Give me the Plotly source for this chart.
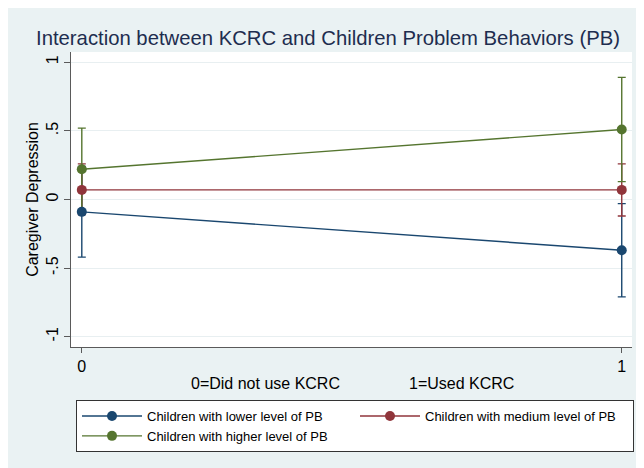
import plotly.graph_objects as go

# ---- data ----
x_vals = [0, 1]
x_ticklabels = ["0", "1"]
series_names = [
    "Children with lower level of PB",
    "Children with medium level of PB",
    "Children with higher level of PB",
]
low_mean = [-0.09, -0.37]
low_upper = [0.24, -0.03]
low_lower = [-0.42, -0.71]
med_mean = [0.07, 0.07]
med_upper = [0.26, 0.26]
med_lower = [-0.11, -0.12]
high_mean = [0.22, 0.51]
high_upper = [0.52, 0.89]
high_lower = [-0.08, 0.13]
y_tickvals = [-1, -0.5, 0, 0.5, 1]
y_ticklabels = ["-1", "-.5", "0", ".5", "1"]

colors = ["#1a476f", "#90353b", "#55752f"]
means = [low_mean, med_mean, high_mean]
uppers = [low_upper, med_upper, high_upper]
lowers = [low_lower, med_lower, high_lower]

FONT = "Liberation Sans, Arial, Helvetica, sans-serif"

fig = go.Figure()

# error bars first (drawn beneath lines/markers)
for m, u, l, c in zip(means, uppers, lowers, colors):
    fig.add_trace(go.Scatter(
        x=x_vals, y=m, mode="markers",
        marker=dict(size=1, color="rgba(0,0,0,0)"),
        error_y=dict(type="data", symmetric=False,
                     array=[ui - mi for ui, mi in zip(u, m)],
                     arrayminus=[mi - li for li, mi in zip(l, m)],
                     color=c, thickness=1.4, width=4),
        showlegend=False, hoverinfo="skip",
    ))

for name, m, c in zip(series_names, means, colors):
    fig.add_trace(go.Scatter(
        x=x_vals, y=m, mode="lines+markers", name=name,
        line=dict(color=c, width=1.4),
        marker=dict(color=c, size=10),
    ))

# page is offset by the 8px body margin
OFF = 8
W, H = 644, 468
L, T = 71 - OFF, 52 - OFF
PR, PB = 632 - OFF, 347 - OFF
R, B = W - PR, H - PB
pw = PR - L
ph = PB - T

def px_x(p):
    return (p - OFF - L) / pw

def px_y(p):
    return (PB - (p - OFF)) / ph

fig.update_layout(
    width=W, height=H,
    margin=dict(l=L, r=R, t=T, b=B, autoexpand=False),
    paper_bgcolor="#eaf2f3",
    plot_bgcolor="white",
    font=dict(family=FONT, color="#000000", size=16),
    title=dict(text="Interaction between KCRC and Children Problem Behaviors (PB)",
               x=(328 - OFF) / W, xanchor="center", y=1 - (38 - OFF) / H, yanchor="middle",
               xref="container", yref="container",
               font=dict(size=20.3, color="#1e2d4f", family=FONT)),
    xaxis=dict(range=[-0.02, 1.019], tickvals=x_vals, ticktext=x_ticklabels,
               showgrid=False, zeroline=False, showline=True,
               linecolor="#5a5a5a", linewidth=1.2, ticks="outside",
               ticklen=5, tickcolor="#5a5a5a", tickfont=dict(size=16),
               title=None),
    yaxis=dict(range=[-1.075, 1.075], tickvals=y_tickvals, ticktext=y_ticklabels,
               tickangle=-90, showgrid=True, gridcolor="#e8eff1", gridwidth=1,
               zeroline=False, showline=True, linecolor="#5a5a5a", linewidth=1.2,
               ticks="outside", ticklen=6, tickcolor="#5a5a5a",
               tickfont=dict(size=16),
               title=dict(text="Caregiver Depression", font=dict(size=16), standoff=0)),
    legend=dict(orientation="h", x=px_x(76), xanchor="left",
                y=px_y(400), yanchor="top",
                bgcolor="white", bordercolor="#333333", borderwidth=1,
                font=dict(size=13, family=FONT),
                entrywidth=203, entrywidthmode="pixels", itemwidth=60,
                traceorder="normal"),
    annotations=[
        dict(text="0=Did not use KCRC", xref="paper", yref="paper",
             x=px_x(265), y=px_y(383), xanchor="center", yanchor="middle",
             showarrow=False, font=dict(size=16)),
        dict(text="1=Used KCRC", xref="paper", yref="paper",
             x=px_x(461), y=px_y(383), xanchor="center", yanchor="middle",
             showarrow=False, font=dict(size=16)),
    ],
)

fig.write_html("out.html")
